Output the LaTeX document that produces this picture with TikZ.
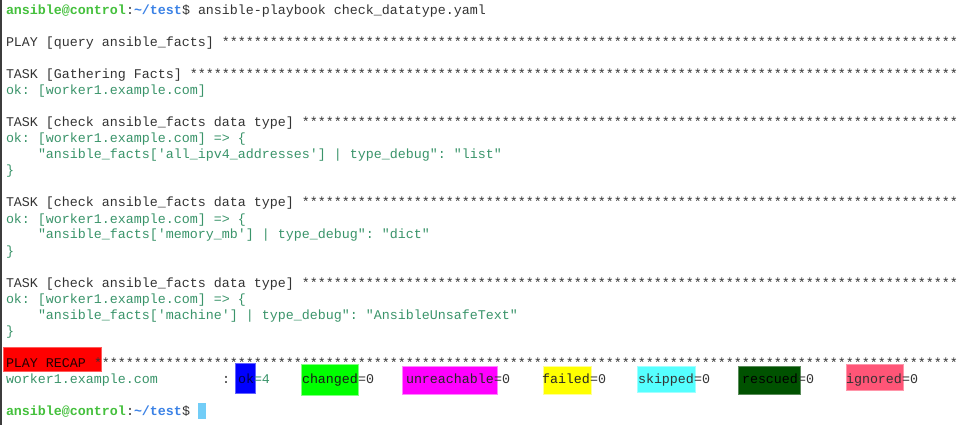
\documentclass[tikz,border=0pt]{standalone}
\usepackage{fontspec}
\setmonofont{Liberation Mono}
\ExplSyntaxOn
\newcommand\starsrow[1]{\prg_replicate:nn{#1}{*}}
\ExplSyntaxOff
\definecolor{dflt}{HTML}{333333}
\definecolor{okg}{HTML}{3A946A}
\definecolor{pgreen}{HTML}{44C03C}
\definecolor{pblue}{HTML}{3B82E6}
\definecolor{curs}{HTML}{72CDF7}
\definecolor{border}{HTML}{3C3C3C}
\tikzset{
  txt/.style={anchor=base west, inner sep=0pt, outer sep=0pt,
    font=\ttfamily\frenchspacing\fontsize{13.33}{16}\selectfont, text=dflt},
  hl/.style={line width=1pt}
}
% \tline{name}{col}{row}{color}{text}
\newcommand\tline[5]{\node[txt,text=#4] (#1) at ({6+8*#2},{-(15+16*#3)}) {#5};}
\begin{document}
\begin{tikzpicture}[x=1pt,y=1pt]
\useasboundingbox (0,0) rectangle (962,-425);
\fill[white] (0,0) rectangle (962,-425);
\clip (0,0) rectangle (962,-425);
\fill[border] (0,0) rectangle (1.6,-425);
% highlight boxes
\filldraw[hl, fill={rgb,255:red,255;green,0;blue,0}, draw={rgb,255:red,255;green,90;blue,90}] (3,-347) rectangle (101,-371);
\filldraw[hl, fill={rgb,255:red,0;green,0;blue,255}, draw={rgb,255:red,100;green,100;blue,255}] (235,-363) rectangle (255,-393);
\filldraw[hl, fill={rgb,255:red,0;green,255;blue,0}, draw={rgb,255:red,130;green,255;blue,130}] (301,-364) rectangle (358,-395);
\filldraw[hl, fill={rgb,255:red,255;green,0;blue,255}, draw={rgb,255:red,255;green,130;blue,255}] (402,-366) rectangle (497,-394);
\filldraw[hl, fill={rgb,255:red,255;green,255;blue,0}, draw={rgb,255:red,255;green,255;blue,150}] (543,-366) rectangle (591,-394);
\filldraw[hl, fill={rgb,255:red,85;green,255;blue,255}, draw={rgb,255:red,160;green,255;blue,255}] (637,-366) rectangle (695,-392);
\filldraw[hl, fill={rgb,255:red,0;green,82;blue,0}, draw={rgb,255:red,90;green,140;blue,90}] (738,-366) rectangle (800,-394);
\filldraw[hl, fill={rgb,255:red,255;green,85;blue,119}, draw={rgb,255:red,255;green,150;blue,170}] (846,-364) rectangle (903,-390);
% row 0
\tline{p0a}{0}{0}{pgreen}{\bfseries ansible@control}
\tline{p0b}{15}{0}{dflt}{:}
\tline{p0c}{16}{0}{pblue}{\bfseries \textasciitilde/test}
\tline{p0d}{22}{0}{dflt}{\$}
\tline{p0e}{24}{0}{dflt}{ansible-playbook check\_datatype.yaml}
% play
\tline{r2}{0}{2}{dflt}{PLAY [query ansible\_facts] \starsrow{92}}
\tline{r4}{0}{4}{dflt}{TASK [Gathering Facts] \starsrow{96}}
\tline{r5}{0}{5}{okg}{ok: [worker1.example.com]}
% task 1
\tline{r7}{0}{7}{dflt}{TASK [check ansible\_facts data type] \starsrow{82}}
\tline{r8}{0}{8}{okg}{ok: [worker1.example.com] => \{}
\tline{r9}{4}{9}{okg}{"ansible\_facts['all\_ipv4\_addresses'] | type\_debug": "list"}
\tline{r10}{0}{10}{okg}{\}}
% task 2
\tline{r12}{0}{12}{dflt}{TASK [check ansible\_facts data type] \starsrow{82}}
\tline{r13}{0}{13}{okg}{ok: [worker1.example.com] => \{}
\tline{r14}{4}{14}{okg}{"ansible\_facts['memory\_mb'] | type\_debug": "dict"}
\tline{r15}{0}{15}{okg}{\}}
% task 3
\tline{r17}{0}{17}{dflt}{TASK [check ansible\_facts data type] \starsrow{82}}
\tline{r18}{0}{18}{okg}{ok: [worker1.example.com] => \{}
\tline{r19}{4}{19}{okg}{"ansible\_facts['machine'] | type\_debug": "AnsibleUnsafeText"}
\tline{r20}{0}{20}{okg}{\}}
% recap
\tline{r22a}{0}{22}{black!85!red}{PLAY RECAP}
\tline{r22b}{11}{22}{dflt}{\starsrow{108}}
\tline{r23a}{0}{23}{okg}{worker1.example.com}
\tline{r23b}{27}{23}{dflt}{:}
\tline{r23c}{29}{23}{black!70!blue}{ok}
\tline{r23d}{31}{23}{okg}{=4}
\tline{r23e}{37}{23}{black!90}{changed}
\tline{r23f}{44}{23}{dflt}{=0}
\tline{r23g}{50}{23}{black!85}{unreachable}
\tline{r23h}{61}{23}{dflt}{=0}
\tline{r23i}{67}{23}{black!85}{failed}
\tline{r23j}{73}{23}{dflt}{=0}
\tline{r23k}{79}{23}{dflt}{skipped}
\tline{r23l}{86}{23}{dflt}{=0}
\tline{r23m}{92}{23}{black}{rescued}
\tline{r23n}{99}{23}{dflt}{=0}
\tline{r23o}{105}{23}{dflt}{ignored}
\tline{r23p}{112}{23}{dflt}{=0}
% final prompt
\tline{p25a}{0}{25}{pgreen}{\bfseries ansible@control}
\tline{p25b}{15}{25}{dflt}{:}
\tline{p25c}{16}{25}{pblue}{\bfseries \textasciitilde/test}
\tline{p25d}{22}{25}{dflt}{\$}
\fill[curs] (198,-403) rectangle (206,-419);
\end{tikzpicture}
\end{document}
